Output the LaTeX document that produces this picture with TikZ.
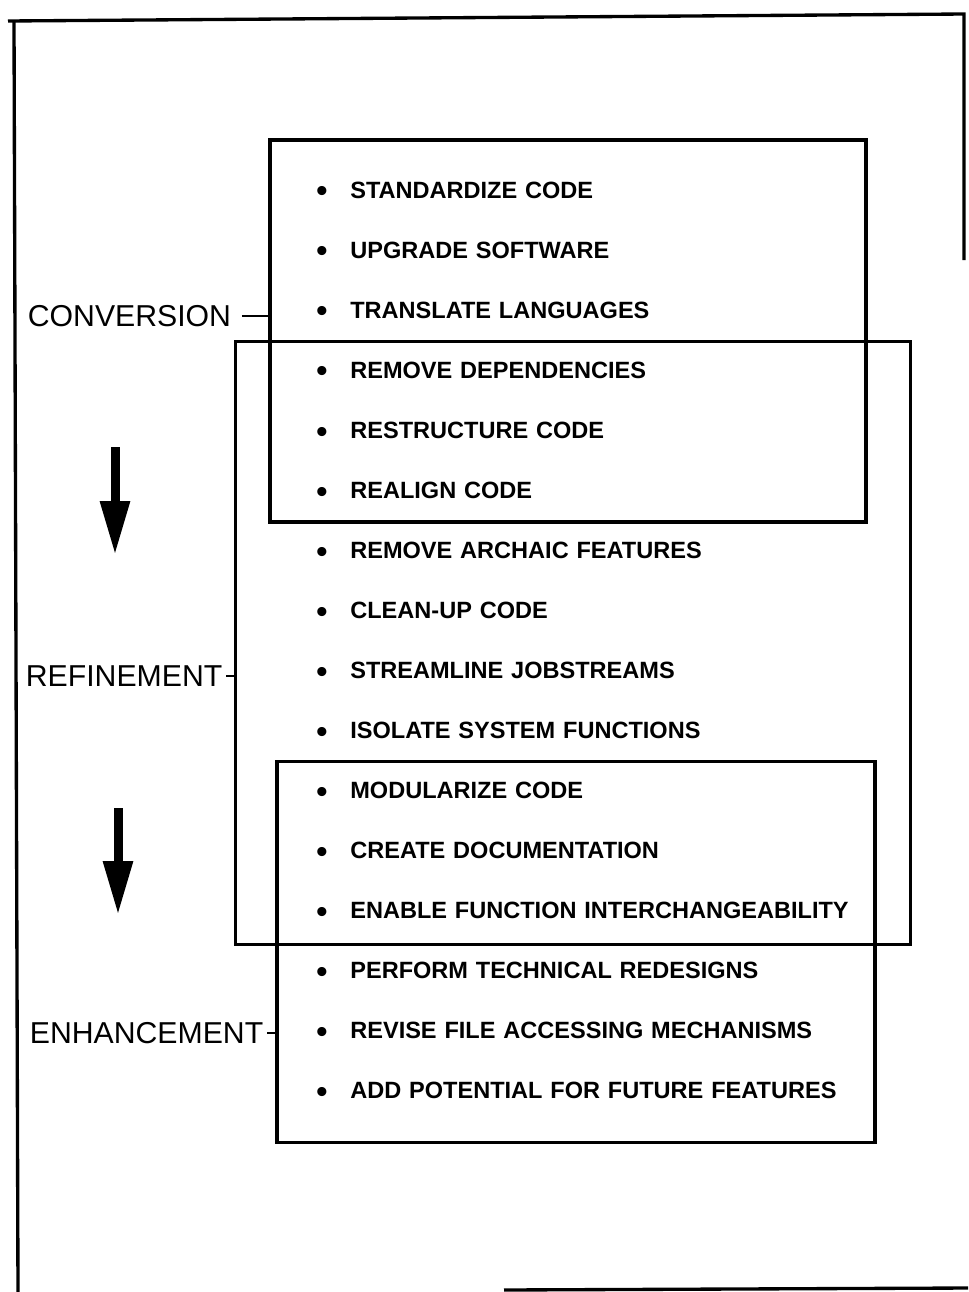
\documentclass[tikz,border=0pt]{standalone}
\usepackage{fontspec}
\setmainfont{Liberation Sans}
\usepackage{tikz}
\usetikzlibrary{arrows.meta, positioning}

\begin{document}
\begin{tikzpicture}[
    x=0.02cm, y=-0.02cm,
    node distance=0.827cm,
    item/.style={text width=11cm, align=left, inner sep=0pt, text height=0.36cm, text depth=0cm, font=\fontsize{13.4}{15}\selectfont\bfseries},
    stage/.style={inner sep=2pt, font=\fontsize{17.2}{20}\selectfont},
    groupbox/.style={rectangle, draw=black, line width=1.8pt, inner sep=0pt},
    tick/.style={draw=black, line width=1.3pt},
    flowarrow/.style={line width=0.18cm, -{Triangle[width=0.56cm, length=1.08cm]}}
]
    \useasboundingbox (0,0) rectangle (968,1292);
    \newcommand{\bul}{\makebox[0.68cm][l]{\raisebox{-0.07cm}{\scalebox{1.35}{\textbullet}}}}

    % Frame
    \draw [line width=1.9pt] (8,21) -- (964,14) -- (964,260);
    \draw [line width=1.9pt] (14,21) -- (18,1292);
    \draw [line width=1.9pt] (504,1290) -- (968,1288);

    % Boxes
    \node (convbox) [groupbox, minimum width=11.92cm, minimum height=7.64cm] at (568,331) {};
    \node (refbox) [groupbox, minimum width=13.5cm, minimum height=12.06cm] at (573,643) {};
    \node (enhbox) [groupbox, minimum width=11.96cm, minimum height=7.62cm] at (576,952) {};

    % Items
    \node (std) [item, anchor=north west] at (316,180) {\bul STANDARDIZE CODE};
    \node (upg) [item, below=of std] {\bul UPGRADE SOFTWARE};
    \node (trl) [item, below=of upg] {\bul TRANSLATE LANGUAGES};
    \node (rdep) [item, below=of trl] {\bul REMOVE DEPENDENCIES};
    \node (rstr) [item, below=of rdep] {\bul RESTRUCTURE CODE};
    \node (ralg) [item, below=of rstr] {\bul REALIGN CODE};
    \node (rarc) [item, below=of ralg] {\bul REMOVE ARCHAIC FEATURES};
    \node (clean) [item, below=of rarc] {\bul CLEAN-UP CODE};
    \node (strm) [item, below=of clean] {\bul STREAMLINE JOBSTREAMS};
    \node (isol) [item, below=of strm] {\bul ISOLATE SYSTEM FUNCTIONS};
    \node (modu) [item, below=of isol] {\bul MODULARIZE CODE};
    \node (docu) [item, below=of modu] {\bul CREATE DOCUMENTATION};
    \node (intc) [item, below=of docu] {\bul ENABLE FUNCTION INTERCHANGEABILITY};
    \node (redes) [item, below=of intc] {\bul PERFORM TECHNICAL REDESIGNS};
    \node (facc) [item, below=of redes] {\bul REVISE FILE ACCESSING MECHANISMS};
    \node (futr) [item, below=of facc] {\bul ADD POTENTIAL FOR FUTURE FEATURES};

    % Stage labels
    \node (convlbl) [stage, anchor=west] at (24,316) {CONVERSION};
    \node (reflbl) [stage, anchor=west] at (22,676) {REFINEMENT};
    \node (enhlbl) [stage, anchor=west] at (26,1033) {ENHANCEMENT};

    \draw [tick, shorten <=4pt] (convlbl.east) -- (convlbl.east -| convbox.west);
    \draw [tick] (reflbl.east) -- (reflbl.east -| refbox.west);
    \draw [tick] (enhlbl.east) -- (enhlbl.east -| enhbox.west);

    % Arrows
    \coordinate (a1top) at (115,447);
    \coordinate (a1tip) at (115,555);
    \coordinate (a2top) at (118,808);
    \coordinate (a2tip) at (118,915);
    \draw [flowarrow] (a1top) -- (a1tip);
    \draw [flowarrow] (a2top) -- (a2tip);

\end{tikzpicture}
\end{document}
